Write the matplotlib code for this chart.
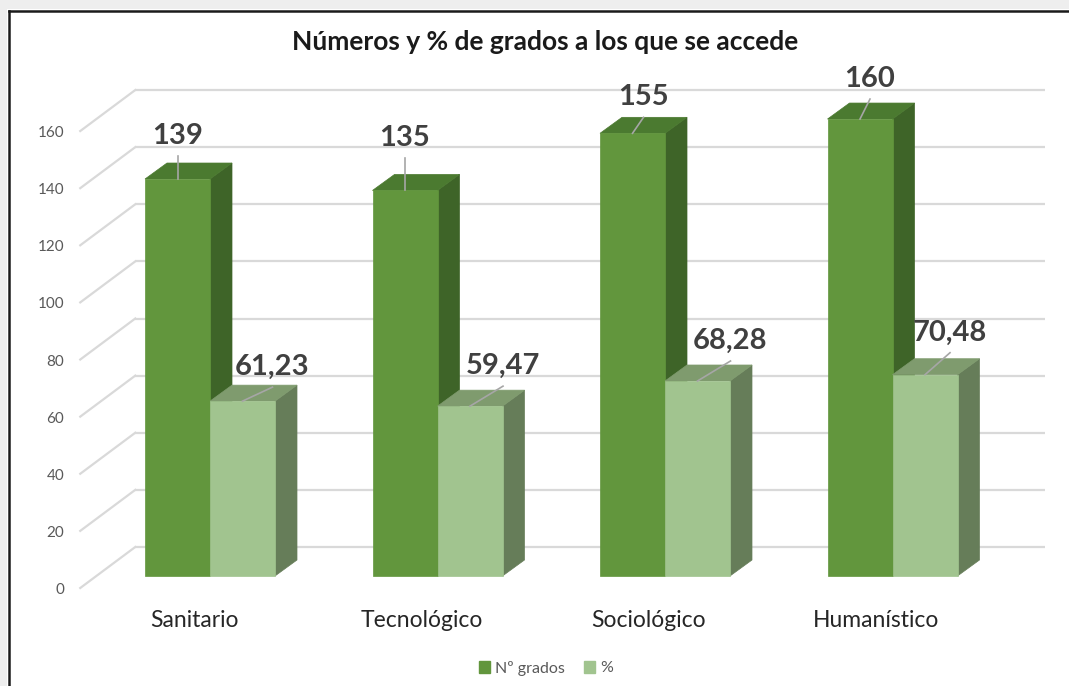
import matplotlib.pyplot as plt
from matplotlib.patches import Polygon, Rectangle, Patch
from matplotlib.lines import Line2D

categories = ["Sanitario", "Tecnológico", "Sociológico", "Humanístico"]
n_grados = [139, 135, 155, 160]
porcentaje = [61.23, 59.47, 68.28, 70.48]
y_ticks = [0, 20, 40, 60, 80, 100, 120, 140, 160]
series_names = ["Nº grados", "%"]

# label offsets in px from the front-top centre of each bar (right, up to baseline)
green_lbl_off = [(0, 35), (0, 44), (11, 28), (10, 32)]
light_lbl_off = [(30, 26), (33, 32), (33, 32), (25, 34)]

W, H = 1069, 686
fig = plt.figure(figsize=(W / 100, H / 100), dpi=100)
ax = fig.add_axes([0, 0, 1, 1])

# pixel mapping of the front plane of the bars
x0_px, cat_px = 210, 227.5
y0_px, unit_px = 576, 2.856
ax.set_xlim(-x0_px / cat_px, (W - x0_px) / cat_px)
ax.set_ylim((y0_px - H) / unit_px, y0_px / unit_px)
ax.axis("off")

def px(dx, dy):
    # pixel offset (right, up) -> data offset
    return dx / cat_px, dy / unit_px

back_dx, back_dy = px(39, 29)
front_dx, front_dy = px(-16, -12)
bar_dx, bar_dy = px(22, 16)
bar_w = 65 / cat_px

FONT = ["Lato", "DejaVu Sans"]
grid_c = "#d9d9d9"

# back wall and floor gridlines
x_left, x_right = -0.5, len(categories) - 0.5
for v in y_ticks:
    ax.plot([x_left + back_dx, x_right + back_dx], [v + back_dy, v + back_dy],
            color=grid_c, lw=1.6, zorder=1, solid_capstyle="butt")
    ax.plot([x_left + front_dx, x_left + back_dx], [v + front_dy, v + back_dy],
            color=grid_c, lw=1.6, zorder=1)
    tx, ty = px(-16, -2)
    ax.text(x_left + front_dx + tx, v + front_dy + ty, str(v), ha="right", va="center",
            fontsize=11, color="#595959", family=FONT)

def draw_bar(xl, v, front, top, side, z):
    xr = xl + bar_w
    ax.add_patch(Polygon([(xr, 0), (xr + bar_dx, bar_dy), (xr + bar_dx, v + bar_dy), (xr, v)],
                         closed=True, fc=side, ec=side, lw=0.5, zorder=z))
    ax.add_patch(Polygon([(xl, v), (xl + bar_dx, v + bar_dy), (xr + bar_dx, v + bar_dy), (xr, v)],
                         closed=True, fc=top, ec=top, lw=0.5, zorder=z))
    ax.bar(xl, v, width=bar_w, align="edge", color=front, edgecolor=front, lw=0.5, zorder=z + 0.05)

green = ("#62963d", "#4b7a30", "#3e6428")
light = ("#a1c48f", "#7f9b6e", "#667d59")

for i in range(len(categories)):
    draw_bar(i - bar_w, n_grados[i], *green, z=3 + i * 0.2)
    draw_bar(i, porcentaje[i], *light, z=3.1 + i * 0.2)

def label(xc, v, text, off):
    ox, oy = px(*off)
    lx, ly = xc + ox, v + oy
    ax.text(lx, ly, text, ha="center", va="baseline", fontsize=21, fontweight="bold",
            color="#404040", family=FONT, zorder=6)
    ex, ey = px(0, -12)
    ax.plot([xc, lx], [v, ly + ey], color="#a6a6a6", lw=1.2, zorder=5)

for i in range(len(categories)):
    label(i - bar_w / 2, n_grados[i], str(n_grados[i]), green_lbl_off[i])
    label(i + bar_w / 2, porcentaje[i], f"{porcentaje[i]:.2f}".replace(".", ","), light_lbl_off[i])

# category labels
for i, c in enumerate(categories):
    cx, cy = px(-16, -51)
    ax.text(i + cx, cy, c, ha="center", va="baseline", fontsize=16.5, color="#262626", family=FONT)

fig.text(545 / W, 1 - 42 / H, "Números y % de grados a los que se accede", ha="center", va="center",
         fontsize=19, fontweight="bold", color="#1a1a1a", family=FONT)

handles = [Patch(color=green[0]), Patch(color=light[0])]
fig.legend(handles, series_names, loc="center", bbox_to_anchor=(546 / W, 1 - 668 / H), ncol=2,
           frameon=False, handlelength=0.7, handleheight=0.7, handletextpad=0.3, columnspacing=1.2,
           prop={"family": FONT, "size": 11.5}, labelcolor="#595959")

# screenshot frame
fig.add_artist(Rectangle((0, 1 - 9 / H), 1, 9 / H, transform=fig.transFigure, fc="#eeeeee", ec="none"))
fig.add_artist(Rectangle((0, 0), 7 / W, 1, transform=fig.transFigure, fc="#eeeeee", ec="none"))
fig.add_artist(Line2D([8.5 / W, 1], [1 - 10.5 / H, 1 - 10.5 / H], transform=fig.transFigure,
                      color="#1a1a1a", lw=1.8))
fig.add_artist(Line2D([8.5 / W, 8.5 / W], [0, 1 - 10.5 / H], transform=fig.transFigure,
                      color="#1a1a1a", lw=1.8))

fig.savefig("out.png", dpi=100)
